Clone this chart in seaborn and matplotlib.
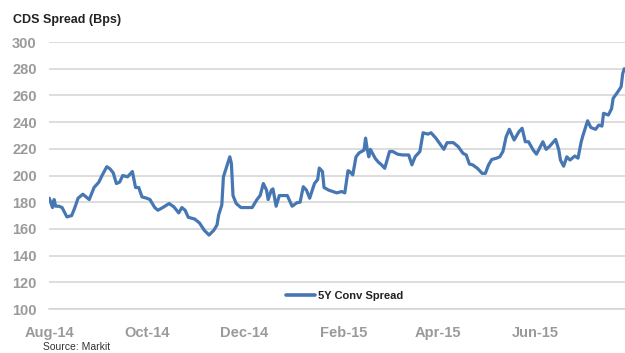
import matplotlib
matplotlib.use("Agg")
import matplotlib.pyplot as plt
import matplotlib.dates as mdates
import seaborn as sns
import pandas as pd

dates = [
    "2014-08-01", "2014-08-03", "2014-08-04", "2014-08-05", "2014-08-07", "2014-08-09",
    "2014-08-12", "2014-08-15", "2014-08-17", "2014-08-19", "2014-08-22", "2014-08-24",
    "2014-08-26", "2014-08-29", "2014-09-01", "2014-09-03", "2014-09-06", "2014-09-08",
    "2014-09-10", "2014-09-12", "2014-09-14", "2014-09-16", "2014-09-19", "2014-09-22",
    "2014-09-24", "2014-09-26", "2014-09-28", "2014-10-01", "2014-10-03", "2014-10-06",
    "2014-10-08", "2014-10-11", "2014-10-15", "2014-10-18", "2014-10-21", "2014-10-23",
    "2014-10-25", "2014-10-27", "2014-10-31", "2014-11-03", "2014-11-06", "2014-11-09",
    "2014-11-12", "2014-11-14", "2014-11-15", "2014-11-17", "2014-11-18", "2014-11-20",
    "2014-11-22", "2014-11-23", "2014-11-24", "2014-11-26", "2014-11-29", "2014-12-06",
    "2014-12-09", "2014-12-11", "2014-12-13", "2014-12-15", "2014-12-16", "2014-12-18",
    "2014-12-19", "2014-12-21", "2014-12-23", "2014-12-28", "2014-12-31", "2015-01-03",
    "2015-01-05", "2015-01-07", "2015-01-09", "2015-01-11", "2015-01-14", "2015-01-16",
    "2015-01-17", "2015-01-19", "2015-01-20", "2015-01-23", "2015-01-28", "2015-01-31",
    "2015-02-02", "2015-02-04", "2015-02-05", "2015-02-07", "2015-02-09", "2015-02-11",
    "2015-02-14", "2015-02-15", "2015-02-16", "2015-02-17", "2015-02-18", "2015-02-21",
    "2015-02-23", "2015-02-25", "2015-02-27", "2015-03-02", "2015-03-04", "2015-03-07",
    "2015-03-10", "2015-03-14", "2015-03-16", "2015-03-18", "2015-03-21", "2015-03-23",
    "2015-03-26", "2015-03-28", "2015-03-31", "2015-04-05", "2015-04-07", "2015-04-11",
    "2015-04-14", "2015-04-17", "2015-04-19", "2015-04-21", "2015-04-23", "2015-04-26",
    "2015-04-29", "2015-05-01", "2015-05-03", "2015-05-05", "2015-05-08", "2015-05-10",
    "2015-05-12", "2015-05-14", "2015-05-16", "2015-05-19", "2015-05-22", "2015-05-24",
    "2015-05-26", "2015-05-28", "2015-05-31", "2015-06-02", "2015-06-06", "2015-06-08",
    "2015-06-10", "2015-06-14", "2015-06-16", "2015-06-17", "2015-06-19", "2015-06-21",
    "2015-06-23", "2015-06-26", "2015-06-28", "2015-06-30", "2015-07-01", "2015-07-04",
    "2015-07-06", "2015-07-09", "2015-07-11", "2015-07-13", "2015-07-14", "2015-07-17",
    "2015-07-19", "2015-07-20", "2015-07-23", "2015-07-25", "2015-07-26", "2015-07-27",
]

spread = [
    183, 176, 182, 177, 177, 176,
    169, 170, 176, 183, 186, 184,
    182, 191, 195, 200, 206.6, 205,
    202, 194, 195, 200, 199, 203,
    191, 191, 184, 183, 182, 176,
    174, 176, 179, 176.5, 172, 176,
    174, 168.7, 167.4, 164.5, 159, 155.4,
    159, 163, 170.4, 178, 199, 206.6,
    214, 209, 185, 179, 176, 176,
    182, 185, 194, 189, 182, 189,
    190, 177, 185, 185, 177, 179.6,
    180, 191.6, 189, 183, 194, 197,
    205.6, 203, 191, 189, 187, 188,
    187, 203.6, 203, 200.5, 214, 217,
    219, 228, 220, 214, 219.6, 212.9,
    210, 208, 205.4, 218, 218, 216,
    215.4, 215.4, 208, 214, 218, 232,
    231, 232, 228, 219.6, 224.6, 224.6,
    221.6, 216.6, 215.4, 208.6, 208, 205.4,
    201.6, 201.6, 208, 212, 213, 214,
    218, 229, 234.6, 226.6, 232.8, 235.4,
    225.3, 225.3, 219, 216, 225.3, 219.6,
    221.6, 227, 219, 211.6, 207, 214,
    211.6, 214.6, 213, 225.3, 229.6, 241,
    236, 234.6, 237.8, 237, 246.6, 245.3,
    250, 257.8, 262.8, 266.5, 276.5, 280,
]

series_name = "5Y Conv Spread"
y_ticks = [100, 120, 140, 160, 180, 200, 220, 240, 260, 280, 300]
x_tick_dates = ["2014-08-01", "2014-10-01", "2014-12-01", "2015-02-01", "2015-04-01", "2015-06-01"]

df = pd.DataFrame({"date": pd.to_datetime(dates), "value": spread, "series": series_name})

sns.set_theme(style="white")
plt.rcParams["font.family"] = ["Liberation Sans", "DejaVu Sans"]

fig = plt.figure(figsize=(6.25, 3.53), dpi=100)
ax = fig.add_axes([0.0789, 0.1246, 0.9211, 0.7564])

line_color = "#4677b2"
sns.lineplot(data=df, x="date", y="value", hue="series", palette=[line_color],
             linewidth=2.3, ax=ax, legend=True)

ax.set_ylim(100, 300)
ax.set_xlim(pd.Timestamp("2014-08-01"), pd.Timestamp("2015-07-27 10:00"))
ax.set_yticks(y_ticks)
ax.set_xticks(pd.to_datetime(x_tick_dates))
ax.xaxis.set_major_formatter(mdates.DateFormatter("%b-%y"))

grid_color = "#d3d3d3"
ax.yaxis.grid(True, color=grid_color, linewidth=1.1)
ax.xaxis.grid(False)
for s in ["left", "right", "top"]:
    ax.spines[s].set_visible(False)
ax.spines["bottom"].set_color(grid_color)
ax.spines["bottom"].set_linewidth(1.1)
ax.set_axisbelow(True)

label_gray = "#9a9a9a"
ax.tick_params(axis="y", length=0, pad=9, labelsize=10.5, labelcolor=label_gray)
ax.tick_params(axis="x", direction="out", length=4, width=1, color=grid_color,
               pad=8, labelsize=10.5, labelcolor=label_gray)
for lbl in ax.get_xticklabels() + ax.get_yticklabels():
    lbl.set_fontweight("bold")

ax.set_xlabel("")
ax.set_ylabel("")

leg = ax.legend(loc="center", bbox_to_anchor=(0.552, 0.1615), bbox_transform=fig.transFigure,
                frameon=False, fontsize=8, handlelength=2.6, handletextpad=0.3,
                borderpad=0, borderaxespad=0)
for t in leg.get_texts():
    t.set_fontweight("bold")
    t.set_color("#222222")
for h in leg.get_lines():
    h.set_linewidth(2.6)

fig.text(0.021, 0.943, "CDS Spread (Bps)", fontsize=9, fontweight="bold", color="#222222",
         ha="left", va="center")
fig.text(0.069, 0.003, "Source: Markit", fontsize=7.5, color="#333333", ha="left", va="bottom")

fig.savefig("out.png", dpi=100)
